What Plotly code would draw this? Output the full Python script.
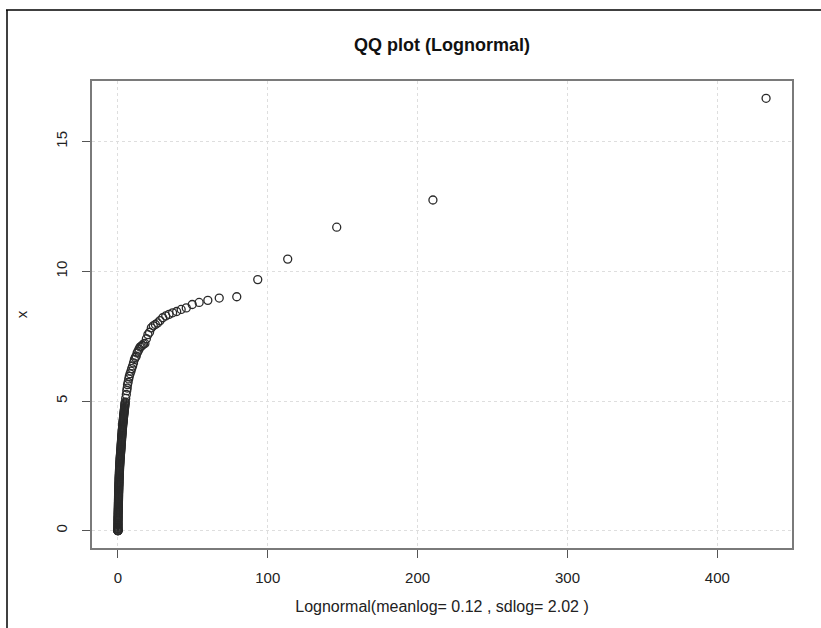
import plotly.graph_objects as go

# Theoretical lognormal quantiles (meanlog = 0.12, sdlog = 2.02) paired with
# the ordered sample values.
theoretical = [
    0.004, 0.006, 0.008, 0.01, 0.012, 0.015, 0.018, 0.02, 0.025, 0.03,
    0.035, 0.04, 0.045, 0.05, 0.055, 0.06, 0.07, 0.08, 0.09, 0.1,
    0.12, 0.13, 0.15, 0.17, 0.19, 0.21, 0.23, 0.25,
    0.27, 0.28, 0.29, 0.3,
    0.32, 0.33, 0.35, 0.37, 0.38, 0.4, 0.42, 0.43, 0.45, 0.46, 0.48, 0.5,
    0.52, 0.54, 0.56, 0.59, 0.61, 0.64, 0.66, 0.69, 0.71, 0.74, 0.76, 0.78, 0.8,
    0.83, 0.86, 0.89, 0.92, 0.95, 0.98, 1.01, 1.04, 1.07, 1.1, 1.14, 1.17,
    1.21, 1.25, 1.29, 1.33, 1.38, 1.42, 1.47, 1.52, 1.57, 1.62, 1.67, 1.72, 1.8,
    1.85, 1.9, 1.95, 2.0, 2.05, 2.1, 2.15, 2.2, 2.25, 2.3, 2.35, 2.4,
    2.45, 2.5, 2.55, 2.6, 2.65, 2.7, 2.76, 2.82, 2.88, 2.94, 3.0, 3.05, 3.1,
    3.17, 3.24, 3.31, 3.38, 3.45, 3.52, 3.59, 3.66, 3.73, 3.8, 3.87, 3.94,
    4.02, 4.1, 4.18, 4.26, 4.34, 4.42, 4.5, 4.58, 4.66, 4.74, 4.82, 4.9,
    5.2, 5.6, 5.9, 6.2, 6.4, 6.8, 7.2, 7.6, 8.1, 8.7,
    9.2, 9.8, 10.4, 11.0, 11.6, 12.2, 12.8, 13.4, 14.1, 14.8,
    15.5, 16.3, 17.1, 18.0, 19.0, 20.0, 21.1, 22.3, 23.6, 25.0,
    26.5, 28.1, 29.9, 31.9, 34.1, 36.5, 39.2, 42.2, 45.6, 49.6,
    54.2, 60.0, 67.6, 79.3, 93.3, 113.3, 146.0, 210.2, 432.5,
]

sample = [
    0, 0, 0, 0, 0.02, 0.05, 0.08, 0.1, 0.13, 0.16,
    0.2, 0.23, 0.27, 0.3, 0.34, 0.38, 0.41, 0.45, 0.49, 0.52,
    0.56, 0.6, 0.64, 0.68, 0.72, 0.76, 0.8, 0.84,
    0.88, 0.92, 0.96, 1.0,
    1.04, 1.08, 1.12, 1.16, 1.2, 1.24, 1.28, 1.32, 1.36, 1.4, 1.44, 1.48,
    1.52, 1.56, 1.6, 1.64, 1.68, 1.72, 1.76, 1.8, 1.84, 1.88, 1.92, 1.96, 2.0,
    2.04, 2.08, 2.12, 2.16, 2.2, 2.24, 2.28, 2.32, 2.36, 2.4, 2.44, 2.48,
    2.52, 2.56, 2.6, 2.64, 2.68, 2.72, 2.76, 2.8, 2.84, 2.88, 2.92, 2.96, 3.0,
    3.04, 3.08, 3.12, 3.16, 3.2, 3.24, 3.28, 3.32, 3.36, 3.4, 3.44, 3.48,
    3.52, 3.56, 3.6, 3.64, 3.68, 3.72, 3.76, 3.8, 3.84, 3.88, 3.92, 3.96, 4.0,
    4.04, 4.08, 4.12, 4.16, 4.2, 4.24, 4.28, 4.32, 4.36, 4.4, 4.44, 4.48,
    4.52, 4.56, 4.6, 4.64, 4.68, 4.72, 4.76, 4.8, 4.84, 4.88, 4.92, 4.96,
    5.1, 5.25, 5.4, 5.5, 5.63, 5.72, 5.85, 5.95, 6.05, 6.15,
    6.25, 6.35, 6.47, 6.6, 6.68, 6.73, 6.85, 6.92, 7.0, 7.08,
    7.11, 7.15, 7.2, 7.22, 7.4, 7.56, 7.65, 7.82, 7.9, 7.95,
    8.01, 8.1, 8.21, 8.28, 8.34, 8.4, 8.45, 8.53, 8.59, 8.72,
    8.8, 8.88, 8.97, 9.02, 9.68, 10.47, 11.7, 12.75, 16.67,
]

x_ticks = [0, 100, 200, 300, 400]
y_ticks = [0, 5, 10, 15]

title_text = "QQ plot (Lognormal)"
x_label = "Lognormal(meanlog= 0.12 , sdlog= 2.02 )"
y_label = "x"

FONT = "Liberation Sans, Arial, sans-serif"
INK = "#222222"

# R-style 4% padding around the data range
def padded(vals):
    lo, hi = min(vals), max(vals)
    pad = 0.04 * (hi - lo)
    return [lo - pad, hi + pad]

fig = go.Figure()
fig.add_trace(go.Scatter(
    x=theoretical,
    y=sample,
    mode="markers",
    marker=dict(symbol="circle-open", size=8, color="#2a2a2a",
                line=dict(width=1.3, color="#2a2a2a")),
    showlegend=False,
    hoverinfo="x+y",
))

axis_common = dict(
    showline=True,
    mirror=True,
    linecolor="#7a7a7a",
    linewidth=1.5,
    ticks="outside",
    ticklen=8,
    tickwidth=1,
    tickcolor="#555555",
    showgrid=True,
    gridcolor="#dedede",
    griddash="dot",
    gridwidth=1,
    zeroline=False,
    tickfont=dict(family=FONT, size=15, color=INK),
)

fig.update_layout(
    width=821,
    height=628,
    margin=dict(l=92, r=29, t=81, b=80),
    paper_bgcolor="white",
    plot_bgcolor="white",
    title=dict(
        text="<b>" + title_text + "</b>",
        x=(92 + 350) / 821,
        xanchor="center",
        y=1 - 45 / 628,
        yanchor="middle",
        font=dict(family=FONT, size=18, color="#111111"),
    ),
    xaxis=dict(
        range=padded(theoretical),
        tickvals=x_ticks,
        ticktext=[str(v) for v in x_ticks],
        ticklabelstandoff=7,
        title=dict(text=x_label, standoff=16,
                   font=dict(family=FONT, size=16, color=INK)),
        **axis_common,
    ),
    yaxis=dict(
        range=padded(sample),
        tickvals=y_ticks,
        ticktext=[str(v) for v in y_ticks],
        tickangle=-90,
        ticklabelstandoff=9,
        title=dict(text=y_label, standoff=22,
                   font=dict(family=FONT, size=15, color=INK)),
        **axis_common,
    ),
    shapes=[
        # frame lines along the top and left edges of the page
        dict(type="line", xref="paper", yref="paper",
             x0=(6 - 92) / 700, x1=(821 - 92) / 700,
             y0=(548 - 10) / 467, y1=(548 - 10) / 467,
             line=dict(color="black", width=1.5)),
        dict(type="line", xref="paper", yref="paper",
             x0=(7 - 92) / 700, x1=(7 - 92) / 700,
             y0=(548 - 10) / 467, y1=(548 - 630) / 467,
             line=dict(color="black", width=1.5)),
    ],
)

fig.write_html("out.html")
